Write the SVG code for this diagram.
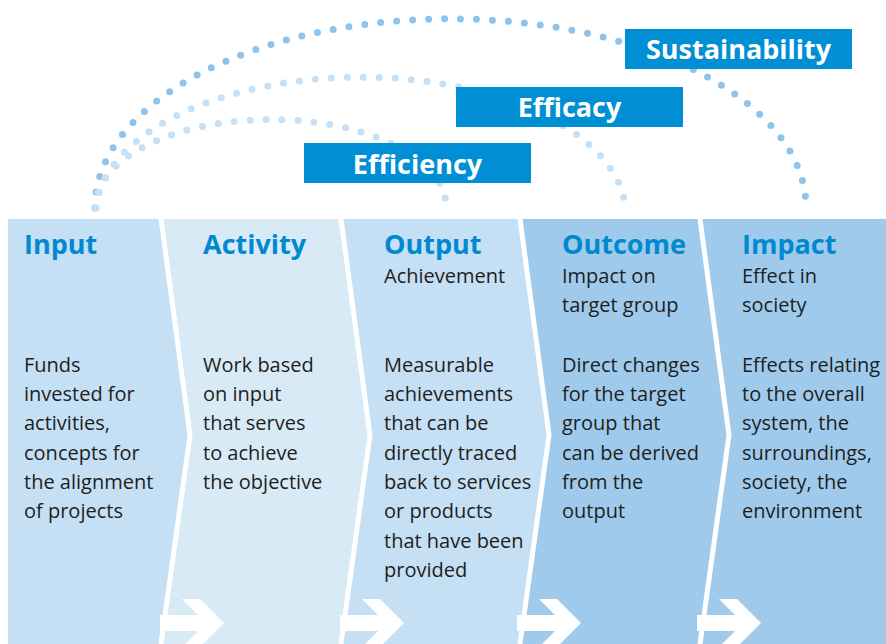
<svg xmlns="http://www.w3.org/2000/svg" width="886" height="644" viewBox="0 0 886 644">
<defs>
<style>
.title{font-family:"Open Sans","Noto Sans",sans-serif;font-weight:700;font-size:27px;fill:#0089cf}
.body{font-family:"Open Sans","Noto Sans",sans-serif;font-size:20px;fill:#1e1e1e}
.ban{fill:#008fd4}
.bantxt{font-family:"Open Sans","Noto Sans",sans-serif;font-weight:700;font-size:27px;fill:#ffffff;text-anchor:middle}
.sep{fill:none;stroke:#ffffff;stroke-width:5}
.arr{fill:#ffffff}
.dotL{fill:none;stroke:#c6e0f5;stroke-width:7;stroke-linecap:round;stroke-dasharray:0 16}
.dotD{fill:none;stroke:#90c3ea;stroke-width:7;stroke-linecap:round;stroke-dasharray:0 16}
</style>
<path id="arrow" d="M-22,615 H16 L0,599 H18 L42,623 L18,647 H0 L16,631 H-22 Z"/>
</defs>
<rect width="886" height="644" fill="#ffffff"/>

<g id="connectors">
<path class="dotD" d="M95,208 A355,188 0 0 1 806,206"/>
<path class="dotL" d="M96,208 A265,137 0 0 1 625,204"/>
<path class="dotL" d="M96,208 A175,87 0 0 1 446,205"/>
</g>

<g id="panel-input">
<polygon points="8,219 161,219 190,435 161,644 8,644" fill="#c5dff4"/>
<text class="title" x="24" y="254">Input</text>
<text class="body" x="24" y="372">Funds</text>
<text class="body" x="24" y="401">invested for</text>
<text class="body" x="24" y="430">activities,</text>
<text class="body" x="24" y="460">concepts for</text>
<text class="body" x="24" y="489">the alignment</text>
<text class="body" x="24" y="518">of projects</text>
</g>

<g id="panel-activity">
<polygon points="161,219 341,219 370,435 341,644 161,644 190,435" fill="#d9eaf7"/>
<text class="title" x="203" y="254">Activity</text>
<text class="body" x="203" y="372">Work based</text>
<text class="body" x="203" y="401">on input</text>
<text class="body" x="203" y="430">that serves</text>
<text class="body" x="203" y="460">to achieve</text>
<text class="body" x="203" y="489">the objective</text>
</g>

<g id="panel-output">
<polygon points="341,219 520,219 549,435 520,644 341,644 370,435" fill="#c5dff4"/>
<text class="title" x="384" y="254">Output</text>
<text class="body" x="384" y="283">Achievement</text>
<text class="body" x="384" y="372">Measurable</text>
<text class="body" x="384" y="401">achievements</text>
<text class="body" x="384" y="430">that can be</text>
<text class="body" x="384" y="460">directly traced</text>
<text class="body" x="384" y="489">back to services</text>
<text class="body" x="384" y="518">or products</text>
<text class="body" x="384" y="548">that have been</text>
<text class="body" x="384" y="577">provided</text>
</g>

<g id="panel-outcome">
<polygon points="520,219 700,219 729,435 700,644 520,644 549,435" fill="#9fcaec"/>
<text class="title" x="562" y="254">Outcome</text>
<text class="body" x="562" y="283">Impact on</text>
<text class="body" x="562" y="312">target group</text>
<text class="body" x="562" y="372">Direct changes</text>
<text class="body" x="562" y="401">for the target</text>
<text class="body" x="562" y="430">group that</text>
<text class="body" x="562" y="460">can be derived</text>
<text class="body" x="562" y="489">from the</text>
<text class="body" x="562" y="518">output</text>
</g>

<g id="panel-impact">
<polygon points="700,219 886,219 886,644 700,644 729,435" fill="#9fcaec"/>
<text class="title" x="742" y="254">Impact</text>
<text class="body" x="742" y="283">Effect in</text>
<text class="body" x="742" y="312">society</text>
<text class="body" x="742" y="372">Effects relating</text>
<text class="body" x="742" y="401">to the overall</text>
<text class="body" x="742" y="430">system, the</text>
<text class="body" x="742" y="460">surroundings,</text>
<text class="body" x="742" y="489">society, the</text>
<text class="body" x="742" y="518">environment</text>
</g>

<g id="separators">
<polyline class="sep" points="161,219 190,435 161,644"/>
<polyline class="sep" points="341,219 370,435 341,644"/>
<polyline class="sep" points="520,219 549,435 520,644"/>
<polyline class="sep" points="700,219 729,435 700,644"/>
<use href="#arrow" class="arr" x="182" y="0"/>
<use href="#arrow" class="arr" x="362" y="0"/>
<use href="#arrow" class="arr" x="539" y="0"/>
<use href="#arrow" class="arr" x="719" y="0"/>
</g>

<g id="banner-efficiency">
<rect class="ban" x="304" y="143" width="227" height="40"/>
<text class="bantxt" x="417.5" y="174">Efficiency</text>
</g>
<g id="banner-efficacy">
<rect class="ban" x="456" y="87" width="227" height="40"/>
<text class="bantxt" x="569.5" y="117">Efficacy</text>
</g>
<g id="banner-sustainability">
<rect class="ban" x="625" y="29" width="227" height="40"/>
<text class="bantxt" x="738.5" y="59">Sustainability</text>
</g>
</svg>
